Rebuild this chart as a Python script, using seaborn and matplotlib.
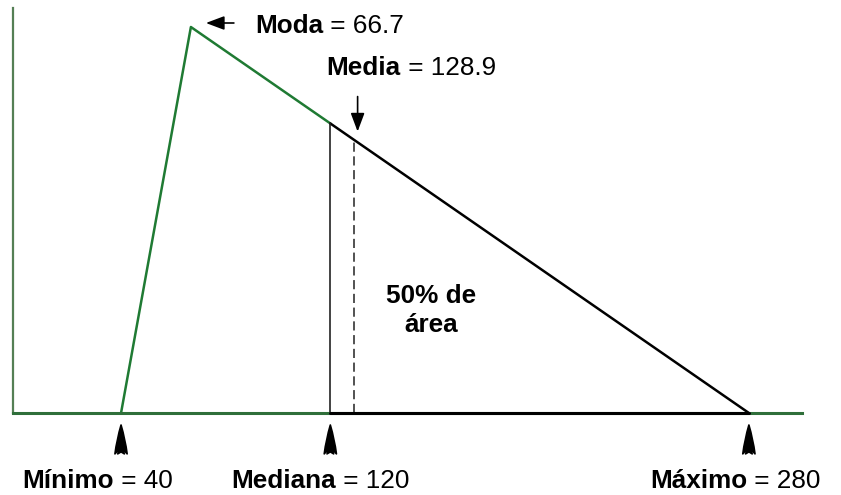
import matplotlib
matplotlib.use("Agg")
import matplotlib.pyplot as plt
import matplotlib.transforms as mtransforms
import numpy as np
import pandas as pd
import seaborn as sns

# Triangular distribution parameters
minimo = 40
moda = 66.7
maximo = 280
mediana = 120
media = 128.9

label_minimo = ["Mínimo", " = 40"]
label_moda = ["Moda", " = 66.7"]
label_mediana = ["Mediana", " = 120"]
label_media = ["Media", " = 128.9"]
label_maximo = ["Máximo", " = 280"]
label_area = "50% de\nárea"

sns.set_style("white")
plt.rcParams["font.family"] = ["Liberation Sans", "DejaVu Sans"]
plt.rcParams["text.color"] = "black"

GREEN = "#1f7a33"
AXIS_GREEN = "#2f6f3a"
LEFT_AXIS = "#557f55"

peak = 2.0 / (maximo - minimo)


def pdf(x):
    if x <= moda:
        return peak * (x - minimo) / (moda - minimo)
    return peak * (maximo - x) / (maximo - moda)


fig = plt.figure(figsize=(8.41, 4.95), dpi=100)
ax = fig.add_axes([13 / 841, 82 / 495, 789 / 841, 405 / 495])

# Left (green) and right (black) parts of the density
left = pd.DataFrame({"x": [minimo, moda, mediana],
                     "y": [0, pdf(moda), pdf(mediana)]})
right = pd.DataFrame({"x": [mediana, maximo], "y": [pdf(mediana), 0]})
sns.lineplot(data=left, x="x", y="y", sort=False, color=GREEN, lw=1.8, ax=ax)
sns.lineplot(data=right, x="x", y="y", sort=False, color="black", lw=1.8, ax=ax)

# Median (solid) and mean (dashed) verticals
ax.plot([mediana, mediana], [0, pdf(mediana)], color="#222222", lw=1.2)
ax.plot([media, media], [0, pdf(media)], color="#222222", lw=1.1,
        ls=(0, (6, 3)))

ax.set_xlim(-1.3, 300.3)
ax.set_ylim(0, peak * 405 / 386)
ax.set_xlabel("")
ax.set_ylabel("")
ax.set_xticks([])
ax.set_yticks([])
for s in ["top", "right"]:
    ax.spines[s].set_visible(False)
ax.spines["left"].set_color(LEFT_AXIS)
ax.spines["left"].set_linewidth(1.6)
ax.spines["bottom"].set_color(AXIS_GREEN)
ax.spines["bottom"].set_linewidth(2.2)
ax.plot([mediana, maximo], [0, 0], color="black", lw=2.2, clip_on=False,
        zorder=5)

FS = 18.8


def off(dx, dy):
    return mtransforms.offset_copy(ax.transData, fig=fig, x=dx, y=dy,
                                   units="dots")


def two_part(parts, x, y, dx, dy):
    t = ax.text(x, y, parts[0], transform=off(dx, dy), fontsize=FS,
                fontweight="bold", ha="left", va="baseline", clip_on=False,
                color="black")
    ax.annotate(parts[1], xy=(1, 0), xycoords=t, fontsize=FS,
                ha="left", va="bottom", annotation_clip=False, color="black")
    return t


def arrow(x, y, tip, tail, style, scale):
    ax.annotate("", xy=(x, y), xycoords=off(*tip),
                xytext=(x, y), textcoords=off(*tail),
                arrowprops=dict(arrowstyle=style, color="black", lw=1.2,
                                mutation_scale=scale, shrinkA=0, shrinkB=0),
                annotation_clip=False)


# Bottom labels and upward arrows
for val, parts in [(minimo, label_minimo), (mediana, label_mediana),
                   (maximo, label_maximo)]:
    two_part(parts, val, 0, -99, -75)
    arrow(val, 0, (0, -12), (0, -38),
          "fancy,head_length=1.3,head_width=0.55,tail_width=0.3", 16)

# Mode label and arrow
two_part(label_moda, moda, pdf(moda), 64, -6)
arrow(moda, pdf(moda), (15, 4), (43, 4), "-|>,head_length=0.8,head_width=0.3", 14)

# Mean label and arrow
two_part(label_media, media, pdf(media), -27, 65)
arrow(media, pdf(media), (4, 8), (4, 43), "-|>,head_length=0.8,head_width=0.3", 14)

# Area annotation
ax.annotate(label_area, xy=(mediana, 0), xycoords=off(101, 81),
            fontsize=FS, fontweight="bold", ha="center", va="baseline",
            linespacing=1.25, annotation_clip=False, color="black")

fig.savefig("out.png", dpi=100)
